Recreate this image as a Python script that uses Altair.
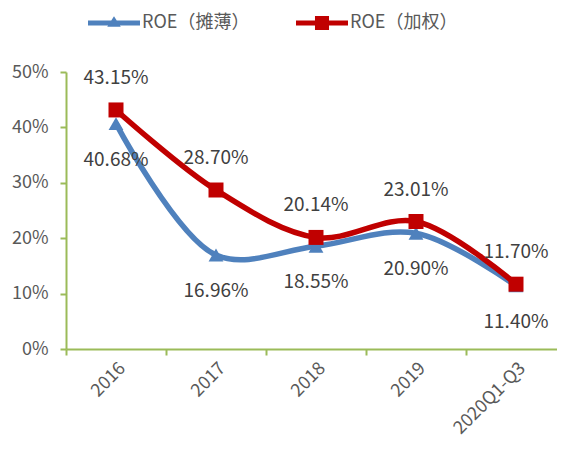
import altair as alt
import pandas as pd

years = ["2016", "2017", "2018", "2019", "2020Q1-Q3"]
diluted = [40.68, 16.96, 18.55, 20.90, 11.40]
weighted = [43.15, 28.70, 20.14, 23.01, 11.70]
s_names = ["ROE（摊薄）", "ROE（加权）"]

BLUE = "#4F81BD"
RED = "#C00000"
GREEN = "#9BBB59"
FONT = "Noto Sans CJK SC"

df = pd.DataFrame({
    "year": years * 2,
    "series": [s_names[0]] * len(years) + [s_names[1]] * len(years),
    "value": diluted + weighted,
})
df["label"] = [f"{v:.2f}%" for v in df["value"]]

x = alt.X(
    "year:N", sort=years,
    scale=alt.Scale(type="band", paddingInner=0, paddingOuter=0, range=[0, 500]),
    axis=alt.Axis(title=None, labelAngle=-45, tickBand="extent", labelFontSize=18,
                  labelColor="#595959", labelFont=FONT, domainColor=GREEN, tickColor=GREEN,
                  domainWidth=2, tickWidth=2, tickSize=6, labelPadding=4),
)
y = alt.Y(
    "value:Q", scale=alt.Scale(domain=[0, 50]),
    axis=alt.Axis(title=None, values=[0, 10, 20, 30, 40, 50], labelExpr="datum.value + '%'",
                  grid=False, labelFontSize=18, labelColor="#595959", labelFont=FONT,
                  domainColor=GREEN, tickColor=GREEN, domainWidth=2, tickWidth=2, tickSize=6,
                  labelPadding=12),
)

base = alt.Chart(df).encode(x=x, y=y)

def series_layers(name, color, shape, size, dy):
    b = base.transform_filter(alt.datum.series == name)
    line = b.mark_line(color=color, strokeWidth=5.5, interpolate="catmull-rom")
    pts = b.mark_point(filled=True, color=color, shape=shape, size=size, opacity=1)
    txt = b.mark_text(dy=dy, fontSize=19, font=FONT, color="#404040").encode(text="label:N")
    return line, pts, txt

lb, pb, tb = series_layers(s_names[0], BLUE, "triangle-up", 220, 36)
lr, pr, tr = series_layers(s_names[1], RED, "square", 225, -32)

path_tri = "M-2,-0.2H2V0.2H-2Z M-0.52,0.28L0,-0.52L0.52,0.28Z"
path_sq = "M-2,-0.2H2V0.2H-2Z M-0.54,-0.54H0.54V0.54H-0.54Z"

leg = dict(title=None, orient="none", legendX=35, legendY=-62, direction="horizontal",
           symbolSize=676, labelFontSize=18, labelFont=FONT, labelColor="#595959",
           columnPadding=46, labelOffset=15, padding=0, symbolStrokeWidth=0,
           symbolOpacity=1)

legend_layer = base.mark_point(filled=True, size=0).encode(
    color=alt.Color("series:N", scale=alt.Scale(domain=s_names, range=[BLUE, RED]),
                    legend=alt.Legend(**leg)),
    shape=alt.Shape("series:N", scale=alt.Scale(domain=s_names, range=[path_tri, path_sq]),
                    legend=alt.Legend(**leg)),
)

chart = alt.layer(legend_layer, lb, pb, lr, pr, tb, tr).properties(
    width=491, height=277,
    autosize=alt.AutoSizeParams(type="none"),
    padding={"left": 58, "top": 64, "right": 0, "bottom": 95},
    background="white",
).configure_view(stroke=None)

chart.save("out.html", embed_options={"renderer": "svg", "actions": False})
